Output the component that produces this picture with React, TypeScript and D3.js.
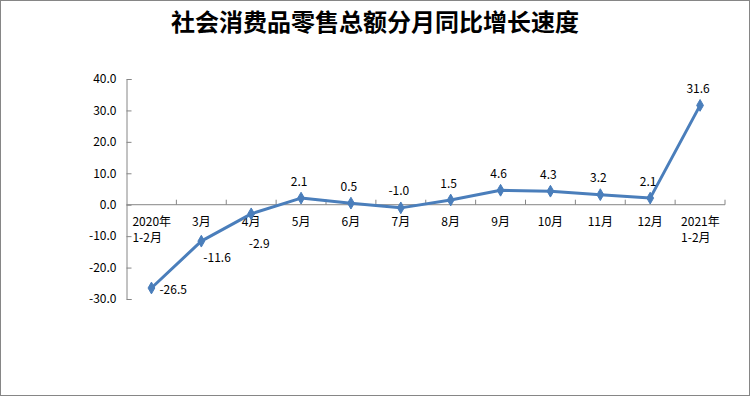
import React, { useEffect, useRef } from 'react';
import * as d3 from 'd3';

const categories = ['2020年\n1-2月', '3月', '4月', '5月', '6月', '7月', '8月', '9月', '10月', '11月', '12月', '2021年\n1-2月'];
const growth = [-26.5, -11.6, -2.9, 2.1, 0.5, -1.0, 1.5, 4.6, 4.3, 3.2, 2.1, 31.6];
const labelPlacement = ['right', 'belowRight', 'farBelow', 'above', 'above', 'above', 'above', 'above', 'above', 'above', 'above', 'above'];
const yTicks = [-30, -20, -10, 0, 10, 20, 30, 40];
const title = '社会消费品零售总额分月同比增长速度';

const fmt = (v: number) => d3.format('.1f')(v).replace('−', '-');

const App = () => {
  const svgRef = useRef<SVGSVGElement>(null);

  useEffect(() => {
    const W = 750;
    const H = 396;
    const font = '"Noto Sans CJK SC", "Noto Sans", sans-serif';

    d3.select(svgRef.current).selectAll('*').remove();
    const svg = d3.select(svgRef.current)
      .attr('width', W)
      .attr('height', H);

    svg.append('rect')
      .attr('x', 0.5).attr('y', 0.5)
      .attr('width', W - 1).attr('height', H - 1)
      .attr('fill', '#fff')
      .attr('stroke', '#868686');

    svg.append('text')
      .attr('x', 375)
      .attr('y', 31)
      .attr('text-anchor', 'middle')
      .attr('font-family', font)
      .attr('font-weight', 'bold')
      .attr('font-size', '24px')
      .attr('fill', '#000')
      .text(title);

    const left = 126.5;
    const right = 725;

    const x = d3.scaleBand()
      .domain(categories)
      .range([left, right])
      .padding(0);

    const y = d3.scaleLinear()
      .domain([-30, 40])
      .range([299, 79]);

    const axisColor = '#868686';

    // y axis
    const yAxis = svg.append('g')
      .attr('transform', `translate(${left},0)`)
      .call(d3.axisLeft(y).tickValues(yTicks).tickSize(-5).tickPadding(10).tickFormat(d => fmt(+d)));
    yAxis.select('.domain').attr('stroke', axisColor);
    yAxis.selectAll('line').attr('stroke', axisColor);
    yAxis.selectAll('text')
      .attr('font-family', font)
      .attr('font-size', '12px')
      .attr('fill', '#000');

    // x axis line at zero, ticks at band edges
    const zeroY = y(0);
    const xg = svg.append('g');
    xg.append('line')
      .attr('x1', left).attr('x2', right)
      .attr('y1', zeroY).attr('y2', zeroY)
      .attr('stroke', axisColor);
    categories.forEach(c => {
      const bx = (x(c) as number) + x.bandwidth();
      xg.append('line')
        .attr('x1', bx).attr('x2', bx)
        .attr('y1', zeroY).attr('y2', zeroY - 5)
        .attr('stroke', axisColor);
    });

    categories.forEach(c => {
      const cx = (x(c) as number) + x.bandwidth() / 2;
      const lines = c.split('\n');
      const t = xg.append('text')
        .attr('font-family', font)
        .attr('font-size', '12px')
        .attr('fill', '#000');
      if (lines.length === 1) {
        t.attr('x', cx).attr('y', zeroY + 21).attr('text-anchor', 'middle').text(c);
      } else {
        const sx = cx - 19;
        lines.forEach((l, i) => {
          t.append('tspan')
            .attr('x', sx)
            .attr('y', zeroY + 21 + i * 16)
            .text(l);
        });
      }
    });

    // line
    const pts = growth.map((v, i) => [(x(categories[i]) as number) + x.bandwidth() / 2, y(v)] as [number, number]);
    svg.append('path')
      .datum(pts)
      .attr('fill', 'none')
      .attr('stroke', '#4a7ebb')
      .attr('stroke-width', 3)
      .attr('stroke-linejoin', 'round')
      .attr('d', d3.line());

    svg.append('g')
      .selectAll('path')
      .data(pts)
      .join('path')
      .attr('transform', d => `translate(${d[0]},${d[1]})`)
      .attr('d', d3.symbol(d3.symbolDiamond, 40))
      .attr('fill', '#4a7ebb')
      .attr('stroke', '#4a7ebb');

    // value labels
    svg.append('g')
      .selectAll('text')
      .data(growth)
      .join('text')
      .attr('font-family', font)
      .attr('font-size', '12px')
      .attr('fill', '#000')
      .attr('dominant-baseline', 'central')
      .attr('text-anchor', (d, i) => (labelPlacement[i] === 'right' || labelPlacement[i] === 'belowRight') ? 'start' : 'middle')
      .attr('x', (d, i) => {
        const p = labelPlacement[i];
        const px = pts[i][0];
        if (p === 'right') return px + 8;
        if (p === 'belowRight') return px + 2;
        if (p === 'farBelow') return px + 8;
        return px - 2;
      })
      .attr('y', (d, i) => {
        const p = labelPlacement[i];
        const py = pts[i][1];
        if (p === 'right') return py;
        if (p === 'belowRight') return py + 15;
        if (p === 'farBelow') return py + 29;
        return py - 18;
      })
      .text(d => fmt(d));
  }, []);

  return (
    <svg ref={svgRef} style={{ position: 'absolute', left: 0, top: 0 }}></svg>
  );
};

export default App;
